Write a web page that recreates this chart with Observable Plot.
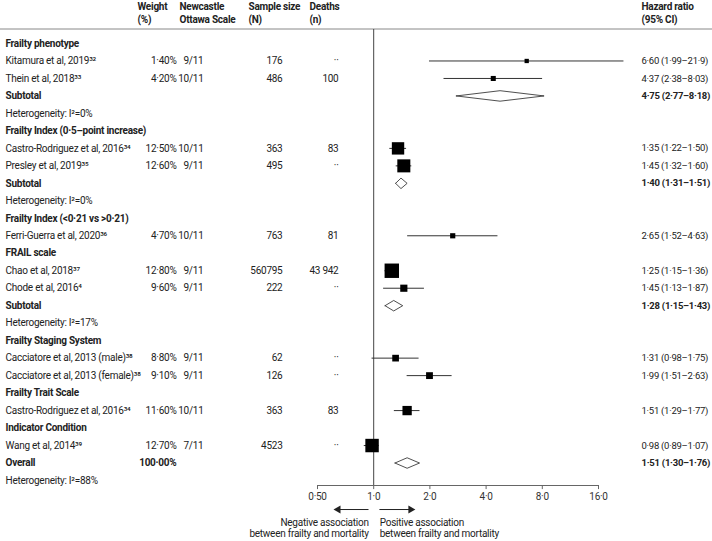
<!DOCTYPE html>
<html><head><meta charset="utf-8">
<script src="https://cdn.jsdelivr.net/npm/d3@7"></script>
<script src="https://cdn.jsdelivr.net/npm/@observablehq/plot@0.6"></script>
<style>body{margin:0;background:#fff}</style>
</head><body><div id="chart"></div>
<script>
const labels = [
 "Frailty phenotype",
 "Kitamura et al, 2019³²",
 "Thein et al, 2018³³",
 "Subtotal",
 "Heterogeneity: I²=0%",
 "Frailty Index (0·5–point increase)",
 "Castro-Rodriguez et al, 2016³⁴",
 "Presley et al, 2019³⁵",
 "Subtotal",
 "Heterogeneity: I²=0%",
 "Frailty Index (<0·21 vs >0·21)",
 "Ferri-Guerra et al, 2020³⁶",
 "FRAIL scale",
 "Chao et al, 2018³⁷",
 "Chode et al, 2016⁴",
 "Subtotal",
 "Heterogeneity: I²=17%",
 "Frailty Staging System",
 "Cacciatore et al, 2013 (male)³⁸",
 "Cacciatore et al, 2013 (female)³⁸",
 "Frailty Trait Scale",
 "Castro-Rodriguez et al, 2016³⁴",
 "Indicator Condition",
 "Wang et al, 2014³⁹",
 "Overall",
 "Heterogeneity: I²=88%"
];
const kinds = ["group","study","study","subtotal","het","group","study","study","subtotal","het","group","study","group","study","study","subtotal","het","group","study","study","group","study","group","study","overall","het"];
const weights = ["","1·40%","4·20%","","","","12·50%","12·60%","","","","4·70%","","12·80%","9·60%","","","","8·80%","9·10%","","11·60%","","12·70%","100·00%",""];
const nosScores = ["","9/11","10/11","","","","10/11","9/11","","","","10/11","","9/11","9/11","","","","9/11","9/11","","10/11","","7/11","",""];
const sampleSizes = ["","176","486","","","","363","495","","","","763","","560795","222","","","","62","126","","363","","4523","",""];
const deathCounts = ["","··","100","","","","83","··","","","","81","","43 942","··","","","","··","··","","83","","··","",""];
const hazardRatio = [null,6.60,4.37,4.75,null,null,1.35,1.45,1.40,null,null,2.65,null,1.25,1.45,1.28,null,null,1.31,1.99,null,1.51,null,0.98,1.51,null];
const ciLower = [null,1.99,2.38,2.77,null,null,1.22,1.32,1.31,null,null,1.52,null,1.15,1.13,1.15,null,null,0.98,1.51,null,1.29,null,0.89,1.30,null];
const ciUpper = [null,21.9,8.03,8.18,null,null,1.50,1.60,1.51,null,null,4.63,null,1.36,1.87,1.43,null,null,1.75,2.63,null,1.77,null,1.07,1.76,null];
const hrLabels = ["","6·60 (1·99–21·9)","4·37 (2·38–8·03)","4·75 (2·77–8·18)","","","1·35 (1·22–1·50)","1·45 (1·32–1·60)","1·40 (1·31–1·51)","","","2·65 (1·52–4·63)","","1·25 (1·15–1·36)","1·45 (1·13–1·87)","1·28 (1·15–1·43)","","","1·31 (0·98–1·75)","1·99 (1·51–2·63)","","1·51 (1·29–1·77)","","0·98 (0·89–1·07)","1·51 (1·30–1·76)",""];
const columnHeaders = ["Weight\n(%)","Newcastle\nOttawa Scale","Sample size\n(N)","Deaths\n(n)","Hazard ratio\n(95% CI)"];
const tickValues = [0.5,1,2,4,8,16];
const tickLabels = ["0·50","1·0","2·0","4·0","8·0","16·0"];
const directionLabels = ["Negative association\nbetween frailty and mortality","Positive association\nbetween frailty and mortality"];

const rows = labels.map((label,i)=>({row:i,label,kind:kinds[i],weight:weights[i],nos:nosScores[i],n:sampleSizes[i],deaths:deathCounts[i],hr:hazardRatio[i],lo:ciLower[i],hi:ciUpper[i],hrText:hrLabels[i]}));
const isBold = d => d.kind==="group"||d.kind==="subtotal"||d.kind==="overall";
const studies = rows.filter(d=>d.kind==="study").map(d=>({...d, precision: 3.92/Math.log(d.hi/d.lo)}));
const pooled = rows.filter(d=>d.kind==="subtotal"||d.kind==="overall");
const H = 0.3;
const diamondPts = pooled.flatMap(d=>[[d.lo,d.row],[d.hr,d.row-H],[d.hi,d.row],[d.hr,d.row+H],[d.lo,d.row]].map(([x,y])=>({id:d.row,x,y})));
const ticks = tickValues.map((v,i)=>({v, label: tickLabels[i]}));

const INK = "#222";
const AXIS_ROW = 25.29;
const txt = (data, text, dx, anchor, opts={}) => Plot.text(data, {y:"row", text, frameAnchor:"left", dx, textAnchor:anchor, fill:INK, ...opts});
const headerDx = [-180,-138,-69,-8,324];

const topRule = (index, scales, values, dims) => {
  const ns = "http://www.w3.org/2000/svg";
  const l = document.createElementNS(ns, "line");
  l.setAttribute("x1", 0); l.setAttribute("x2", dims.width);
  l.setAttribute("y1", dims.marginTop); l.setAttribute("y2", dims.marginTop);
  l.setAttribute("stroke", "#888"); l.setAttribute("stroke-width", 1);
  return l;
};

const chart = Plot.plot({
  width: 712, height: 541,
  marginLeft: 317, marginRight: 114, marginTop: 29, marginBottom: 56,
  x: {type: "log", domain: [0.5, 16], axis: null},
  y: {domain: [0, 25], range: [43, 480], axis: null},
  r: {type: "linear", domain: [0, 24], range: [2, 8.3]},
  style: {fontFamily: "Roboto", fontSize: "10px", letterSpacing: "-0.25px", background: "white", overflow: "visible"},
  marks: [
    topRule,
    Plot.ruleX([1], {stroke: "#444", strokeWidth: 1}),
    Plot.frame({anchor: "bottom", stroke: "#666"}),
    Plot.ruleX(ticks, {x: "v", y1: AXIS_ROW, y2: AXIS_ROW + 0.23, stroke: "#666"}),
    Plot.text(ticks, {x: "v", y: AXIS_ROW, dy: 11, text: "label", fill: "#333"}),
    Plot.ruleY(studies, {y: "row", x1: "lo", x2: "hi", stroke: "#333", strokeWidth: 1}),
    Plot.dot(studies, {x: "hr", y: "row", r: "precision", symbol: "square", fill: "black", stroke: "none"}),
    Plot.line(diamondPts, {x: "x", y: "y", z: "id", fill: "white", stroke: "#222", strokeWidth: 0.8}),
    // header
    ...columnHeaders.map((h, i) => Plot.text([h], {y: -1.8, text: d => d, frameAnchor: "left", dx: headerDx[i], textAnchor: "start", lineAnchor: "middle", lineHeight: 1.3, fontWeight: "bold", fill: INK})),
    // columns
    txt(rows.filter(d => !isBold(d)), "label", -312, "start"),
    txt(rows.filter(isBold), "label", -312, "start", {fontWeight: "bold"}),
    txt(rows.filter(d => d.weight && d.kind !== "overall"), "weight", -141, "end"),
    txt(rows.filter(d => d.kind === "overall"), "weight", -141, "end", {fontWeight: "bold"}),
    txt(rows.filter(d => d.nos), "nos", -114, "end"),
    txt(rows.filter(d => d.n), "n", -35, "end"),
    txt(rows.filter(d => d.deaths), "deaths", 21, "end"),
    txt(studies, "hrText", 324, "start", {fontSize: 9.5, letterSpacing: "-0.3px"}),
    txt(pooled, "hrText", 324, "start", {fontWeight: "bold", fontSize: 9.5, letterSpacing: "-0.4px"}),
    // direction arrows
    Plot.link([{x1: 0.938, x2: 0.66}, {x1: 1.073, x2: 1.55}], {x1: "x1", x2: "x2", y1: 26.66, y2: 26.66, stroke: "#222", strokeWidth: 1}),
    Plot.dot([{x: 0.645, a: -90}, {x: 1.578, a: 90}], {x: "x", y: 26.66, symbol: "triangle", r: 3, rotate: "a", fill: "#222", stroke: "none"}),
    Plot.text([directionLabels[0]], {x: 1, y: 27.72, text: d => d, textAnchor: "end", dx: -5, lineHeight: 1.15, fill: INK}),
    Plot.text([directionLabels[1]], {x: 1, y: 27.72, text: d => d, textAnchor: "start", dx: 6, lineHeight: 1.15, fill: INK})
  ]
});
document.getElementById("chart").appendChild(chart);
</script>
</body></html>
